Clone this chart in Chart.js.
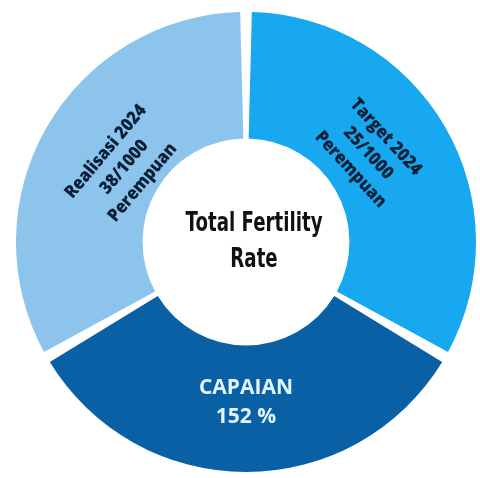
<!DOCTYPE html>
<html>
<head>
<meta charset="utf-8">
<script src="https://cdn.jsdelivr.net/npm/chart.js@4"></script>
<style>
  html, body { margin: 0; padding: 0; width: 480px; height: 478px; overflow: hidden; background: #ffffff; }
  #wrap { position: absolute; left: 16px; top: 12px; width: 460px; height: 460px; }
</style>
</head>
<body>
<div id="wrap"><canvas id="c"></canvas></div>
<script>
// ---- data ----
const categories = ["Target 2024", "CAPAIAN", "Realisasi 2024"];
const segmentValues = [1, 1, 1];          // three equal segments in the graphic
const segmentLabels = [
  ["Target 2024", "25/1000", "Perempuan"],
  ["CAPAIAN", "152 %"],
  ["Realisasi 2024", "38/1000", "Perempuan"]
];
const centerTitle = ["Total Fertility", "Rate"];

// ---- styles ----
const segmentColors = ["#17A8F0", "#0A60A4", "#8CC4EC"];
const labelStyle = [
  { color: "#0A2038", font: "800 18px 'Open Sans', sans-serif", sx: 0.9, lineHeight: 24, angleShift: -6, radius: 151, rotation: 47.5 },
  { color: "#E2F4FD", font: "700 21px 'Open Sans', sans-serif", sx: 1, lineHeight: 29, angleShift: 0, radius: 161, rotation: 0 },
  { color: "#0A2038", font: "800 18px 'Open Sans', sans-serif", sx: 0.9, lineHeight: 24, angleShift: 1.6, radius: 143, rotation: -50 }
];

const labelPlugin = {
  id: 'segLabels',
  afterDatasetsDraw(chart) {
    const ctx = chart.ctx;
    const meta = chart.getDatasetMeta(0);
    meta.data.forEach((arc, i) => {
      const st = labelStyle[i];
      const p = arc.getProps(['x', 'y', 'startAngle', 'endAngle'], true);
      const mid = (p.startAngle + p.endAngle) / 2 + st.angleShift * Math.PI / 180;
      const cx = p.x + Math.cos(mid) * st.radius;
      const cy = p.y + Math.sin(mid) * st.radius;
      ctx.save();
      ctx.translate(cx, cy);
      ctx.rotate(st.rotation * Math.PI / 180);
      ctx.scale(st.sx, 1);
      ctx.fillStyle = st.color;
      ctx.font = st.font;
      ctx.textAlign = 'center';
      ctx.textBaseline = 'middle';
      const lines = segmentLabels[i];
      const n = lines.length;
      lines.forEach((t, k) => {
        ctx.fillText(t, 0, (k - (n - 1) / 2) * st.lineHeight);
      });
      ctx.restore();
    });
    // center title
    const a0 = meta.data[0];
    ctx.save();
    ctx.fillStyle = '#111111';
    ctx.translate(a0.x + 8, a0.y);
    ctx.scale(0.70, 1);
    ctx.font = "700 26px 'DejaVu Sans', sans-serif";
    ctx.textAlign = 'center';
    ctx.textBaseline = 'alphabetic';
    ctx.fillText(centerTitle[0], 0, -11);
    ctx.fillText(centerTitle[1], 0, 25);
    ctx.restore();
  }
};

new Chart(document.getElementById('c'), {
  type: 'doughnut',
  data: {
    labels: categories,
    datasets: [{
      data: segmentValues,
      backgroundColor: segmentColors,
      borderWidth: 0,
      spacing: 8
    }]
  },
  options: {
    responsive: true,
    maintainAspectRatio: false,
    animation: false,
    events: [],
    cutout: '44%',
    rotation: 0,
    layout: { padding: 0 },
    plugins: {
      legend: { display: false },
      tooltip: { enabled: false }
    }
  },
  plugins: [labelPlugin]
});
</script>
</body>
</html>
